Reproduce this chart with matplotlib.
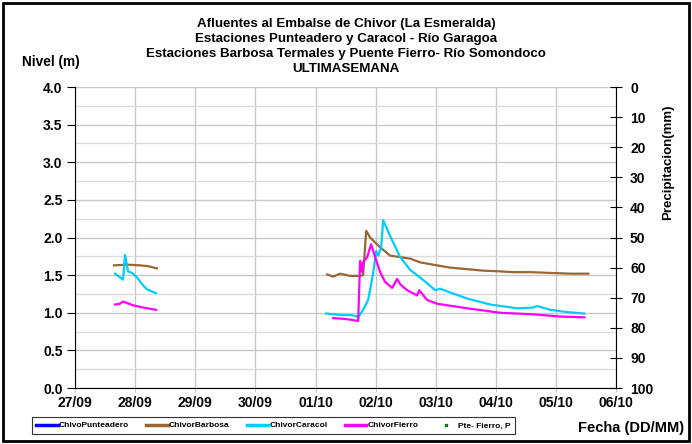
import numpy as np
import matplotlib.pyplot as plt
from matplotlib.patches import Rectangle
from matplotlib.lines import Line2D
from matplotlib.ticker import MultipleLocator, FormatStrFormatter

plt.rcParams['font.family'] = ['Liberation Sans', 'DejaVu Sans']
plt.rcParams['font.weight'] = 'bold'

# etiquetas del eje x (un dia por division)
fechas = ['27/09', '28/09', '29/09', '30/09', '01/10', '02/10', '03/10', '04/10', '05/10', '06/10']

# tiempo en dias desde 27/09 00:00, nivel en m
barbosa_t1 = [0.649, 0.865, 1.082, 1.215, 1.364]
barbosa_v1 = [1.63, 1.64, 1.63, 1.62, 1.59]
barbosa_t2 = [4.193, 4.293, 4.409, 4.576, 4.709, 4.792, 4.842, 4.908, 5.075, 5.241, 5.408,
              5.574, 5.740, 6.023, 6.240, 6.522, 6.789, 7.072, 7.288, 7.571, 7.903, 8.236, 8.536]
barbosa_v2 = [1.51, 1.48, 1.52, 1.49, 1.49, 1.50, 2.09, 2.00, 1.87, 1.76, 1.74,
              1.72, 1.67, 1.63, 1.60, 1.58, 1.56, 1.55, 1.54, 1.54, 1.53, 1.52, 1.52]

caracol_t1 = [0.666, 0.799, 0.832, 0.882, 0.948, 1.032, 1.115, 1.198, 1.348]
caracol_v1 = [1.52, 1.44, 1.77, 1.55, 1.53, 1.47, 1.38, 1.31, 1.26]
caracol_t2 = [4.176, 4.293, 4.459, 4.576, 4.659, 4.709, 4.792, 4.875, 4.958, 5.008, 5.042,
              5.092, 5.125, 5.241, 5.408, 5.574, 5.740, 5.990, 6.073, 6.240, 6.522, 6.905,
              7.354, 7.621, 7.687, 7.903, 8.186, 8.469]
caracol_v2 = [0.99, 0.98, 0.97, 0.97, 0.96, 0.94, 1.04, 1.17, 1.52, 1.82, 1.76,
              1.87, 2.23, 2.02, 1.74, 1.57, 1.47, 1.30, 1.32, 1.27, 1.19, 1.11,
              1.06, 1.07, 1.09, 1.04, 1.01, 0.99]

fierro_t1 = [0.666, 0.749, 0.799, 0.865, 0.965, 1.131, 1.348]
fierro_v1 = [1.11, 1.12, 1.15, 1.13, 1.10, 1.07, 1.04]
fierro_t2 = [4.293, 4.459, 4.576, 4.709, 4.742, 4.775, 4.792, 4.859, 4.925, 4.992, 5.075,
             5.158, 5.275, 5.358, 5.408, 5.524, 5.691, 5.724, 5.857, 6.023, 6.522, 7.072,
             7.621, 8.070, 8.469]
fierro_v2 = [0.93, 0.92, 0.91, 0.89, 1.69, 1.54, 1.67, 1.74, 1.91, 1.74, 1.54,
             1.41, 1.33, 1.45, 1.38, 1.30, 1.23, 1.30, 1.17, 1.12, 1.06, 1.00,
             0.98, 0.95, 0.94]

# precipitacion Puente Fierro (sin registros en la semana)
precip_t = []
precip_v = []

c_punt = '#0000FF'
c_barb = '#996633'
c_cara = '#00CCFF'
c_fier = '#FF00FF'
c_prec = '#008000'

fig = plt.figure(figsize=(6.92, 4.44), dpi=100)
ax = fig.add_axes([0.1084, 0.126, 0.782, 0.678])

lw = 1.6
ax.plot(barbosa_t1, barbosa_v1, color=c_barb, lw=lw)
ax.plot(barbosa_t2, barbosa_v2, color=c_barb, lw=lw)
ax.plot(caracol_t1, caracol_v1, color=c_cara, lw=lw)
ax.plot(caracol_t2, caracol_v2, color=c_cara, lw=lw)
ax.plot(fierro_t1, fierro_v1, color=c_fier, lw=lw)
ax.plot(fierro_t2, fierro_v2, color=c_fier, lw=lw)

ax.set_xlim(0, len(fechas) - 1)
ax.set_ylim(0, 4)
ax.set_xticks(range(len(fechas)))
ax.set_xticklabels(fechas)
ax.yaxis.set_major_locator(MultipleLocator(0.5))
ax.yaxis.set_minor_locator(MultipleLocator(0.25))
ax.yaxis.set_major_formatter(FormatStrFormatter('%.1f'))
ax.grid(True, which='major', axis='both', color='#c8c8c8', lw=1)
ax.grid(True, which='minor', axis='y', color='#dcdcdc', lw=1)
ax.set_axisbelow(True)
ax.tick_params(axis='y', which='minor', length=0)
ax.tick_params(axis='y', which='major', direction='out', length=6, labelsize=10, pad=3)
ax.tick_params(axis='x', direction='out', length=3, labelsize=10, pad=3, color='#c8c8c8')
ax.spines['top'].set_visible(False)
ax.spines['right'].set_visible(False)

ax2 = ax.twinx()
ax2.plot(precip_t, precip_v, 's', color=c_prec, ms=2)
ax2.set_ylim(100, 0)
ax2.yaxis.set_major_locator(MultipleLocator(10))
ax2.tick_params(axis='y', direction='inout', length=8, labelsize=10, pad=6)
ax2.spines['top'].set_visible(False)
ax2.spines['left'].set_visible(False)
ax2.spines['bottom'].set_visible(False)
ax2.set_ylabel('Precipitacion(mm)', fontsize=9.5, fontweight='bold')
ax2.yaxis.set_label_coords(1.085, 0.75)

titulo = ('Afluentes al Embalse de Chivor (La Esmeralda)\n'
          'Estaciones Punteadero y Caracol - Río Garagoa\n'
          'Estaciones Barbosa Termales y Puente Fierro- Río Somondoco\n'
          'ULTIMASEMANA')
fig.text(0.5, 0.895, titulo, ha='center', va='center', fontsize=9.6,
         fontweight='bold', linespacing=1.32)
fig.text(0.032, 0.86, 'Nivel (m)', ha='left', va='center', fontsize=9.8, fontweight='bold')
fig.text(0.835, 0.036, 'Fecha (DD/MM)', ha='left', va='center', fontsize=10.5, fontweight='bold')

handles = [
    Line2D([], [], color=c_punt, lw=2.5),
    Line2D([], [], color=c_barb, lw=2.5),
    Line2D([], [], color=c_cara, lw=2.5),
    Line2D([], [], color=c_fier, lw=2.5),
    Line2D([], [], color=c_prec, marker='s', ms=1.5, ls='none'),
]
labels = ['ChivoPunteadero', 'ChivorBarbosa', 'ChivorCaracol', 'ChivorFierro', 'Pte- Fierro, P']
leg = fig.legend(handles, labels, loc='lower left', bbox_to_anchor=(0.046, 0.0225, 0.698, 0.0405),
                 mode='expand', ncol=5, fontsize=6, frameon=True, fancybox=False,
                 handlelength=2.6, handletextpad=0.1, borderpad=0.55, borderaxespad=0,
                 columnspacing=1.0)
leg.get_frame().set_edgecolor('black')
leg.get_frame().set_linewidth(0.8)

fig.patches.append(Rectangle((0.004, 0.006), 0.992, 0.988, transform=fig.transFigure,
                             fill=False, edgecolor='black', lw=2))

fig.savefig('out.png', dpi=100)
